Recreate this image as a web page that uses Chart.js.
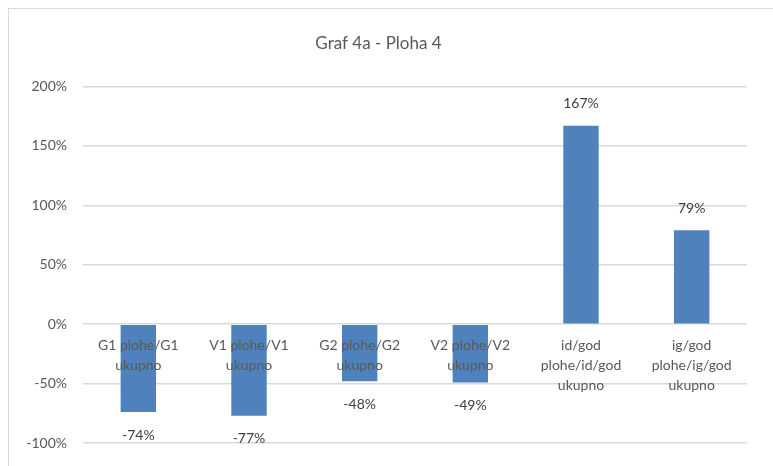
<!DOCTYPE html>
<html>
<head>
<meta charset="utf-8">
<script src="https://cdn.jsdelivr.net/npm/chart.js@4"></script>
<style>
html,body{margin:0;padding:0;background:#fff;overflow:hidden;}
#wrap{position:relative;width:773px;height:466px;}
#frame{position:absolute;left:8px;top:8px;width:900px;height:600px;border:1px solid #D9D9D9;box-sizing:border-box;}
canvas{position:absolute;left:0;top:0;}
</style>
</head>
<body>
<div id="wrap">
<div id="frame"></div>
<canvas id="c" width="773" height="466"></canvas>
</div>
<script>
const chartTitle = "Graf 4a - Ploha 4";
const categories = [
  ["G1 plohe/G1", "ukupno"],
  ["V1 plohe/V1", "ukupno"],
  ["G2 plohe/G2", "ukupno"],
  ["V2 plohe/V2", "ukupno"],
  ["id/god", "plohe/id/god", "ukupno"],
  ["ig/god", "plohe/ig/god", "ukupno"]
];
const values = [-74, -77, -48, -49, 167, 79];
const yMin = -100, yMax = 200, yStep = 50;

const FONT = "Lato, 'Open Sans', sans-serif";

// Draws category labels at the zero line (over the bars) and value labels
const overlayLabels = {
  id: 'overlayLabels',
  afterDatasetsDraw(chart) {
    const ctx = chart.ctx;
    const xs = chart.scales.x, ys = chart.scales.y;
    const zeroY = ys.getPixelForValue(0);
    const meta = chart.getDatasetMeta(0);
    ctx.save();
    ctx.textAlign = "center";
    ctx.textBaseline = "middle";
    ctx.font = "14px " + FONT;
    ctx.fillStyle = "#595959";
    chart.data.labels.forEach((lines, i) => {
      const x = xs.getPixelForValue(i);
      lines.forEach((t, k) => ctx.fillText(t, x, zeroY + 21 + k * 20));
    });
    ctx.fillStyle = "#404040";
    meta.data.forEach((bar, i) => {
      const v = chart.data.datasets[0].data[i];
      const y = v >= 0 ? bar.y - 22 : bar.y + 23;
      ctx.fillText(v + "%", bar.x, y);
    });
    ctx.restore();
  }
};

new Chart(document.getElementById('c'), {
  type: 'bar',
  data: {
    labels: categories,
    datasets: [{
      data: values,
      backgroundColor: '#4F81BD',
      borderWidth: 0,
      barPercentage: 0.32,
      categoryPercentage: 1
    }]
  },
  options: {
    responsive: false,
    animation: false,
    devicePixelRatio: 1,
    layout: { padding: { top: 10, left: 10, right: 26, bottom: 23 } },
    plugins: {
      legend: { display: false },
      tooltip: { enabled: false },
      title: {
        display: true,
        text: chartTitle,
        color: '#595959',
        font: { family: FONT, size: 17, weight: 'normal', lineHeight: 1.2 },
        padding: { top: 23, bottom: 33 }
      }
    },
    scales: {
      x: {
        display: false
      },
      y: {
        min: yMin,
        max: yMax,
        afterFit(scale) { scale.width = 73; scale.paddingTop = 0; scale.paddingBottom = 0; },
        grid: { color: '#D9D9D9', lineWidth: 1.5, drawTicks: false },
        border: { display: false },
        ticks: {
          stepSize: yStep,
          color: '#595959',
          padding: 16,
          font: { family: FONT, size: 14 },
          callback: v => v + '%'
        }
      }
    }
  },
  plugins: [overlayLabels]
});
</script>
</body>
</html>
